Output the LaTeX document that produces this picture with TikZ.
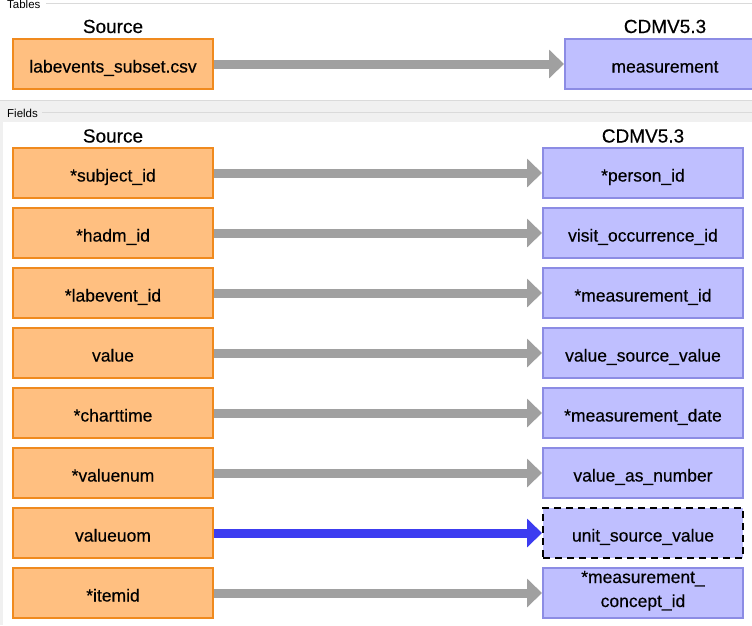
\documentclass[tikz,border=0pt]{standalone}
\usepackage{fontspec}
\setmainfont{Liberation Sans}
\newfontfamily\boxfont{Liberation Sans}[FakeBold=0.35]
\usetikzlibrary{arrows.meta}
\definecolor{srcfill}{RGB}{255,191,128}
\definecolor{srcdraw}{RGB}{240,138,30}
\definecolor{tgtfill}{RGB}{191,191,255}
\definecolor{tgtdraw}{RGB}{140,140,228}
\definecolor{arrgray}{RGB}{160,160,160}
\definecolor{arrblue}{RGB}{60,60,240}
\definecolor{panelline}{RGB}{218,218,218}
\definecolor{panelband}{RGB}{240,240,240}
\tikzset{
  boxbase/.style={rectangle, minimum width=200pt, minimum height=50pt, line width=2pt, inner sep=0pt, align=center, text height=17pt, text depth=0pt, font=\boxfont\fontsize{17.5}{24}\selectfont},
  srcbox/.style={boxbase, draw=srcdraw, fill=srcfill},
  tgtbox/.style={boxbase, draw=tgtdraw, fill=tgtfill},
  dashbox/.style={boxbase, draw=black, fill=tgtfill, dash pattern=on 7pt off 5pt},
  twoline/.style={text height=36pt, text depth=8pt},
  maparrow/.style={draw=arrgray, line width=9pt, -{Triangle[length=15pt,width=28pt]}},
  mapblue/.style={maparrow, draw=arrblue},
  coltitle/.style={inner sep=0pt, anchor=base, font=\boxfont\fontsize{19}{22}\selectfont},
  paneltitle/.style={inner sep=0pt, anchor=west, font=\fontsize{11.5}{13}\selectfont}
}
\begin{document}
\begin{tikzpicture}[x=1pt,y=-1pt]
\useasboundingbox (0,0) rectangle (752,625);
\clip (0,0) rectangle (752,625);
% panel decorations
\fill[white] (0,0) rectangle (752,625);
\draw[panelline, line width=1pt] (46,3) -- (752,3);
\fill[panelband] (0,101) rectangle (752,122);
\draw[panelline, line width=1pt] (0,100.5) -- (752,100.5);
\draw[panelline, line width=1pt] (42,112) -- (752,112);
\fill[panelband] (0,122) rectangle (3,625);
\node[paneltitle] (tablesLbl) at (7,4) {Tables};
\node[paneltitle] (fieldsLbl) at (7,113) {Fields};
% Tables
\node[coltitle] (tsrc) at (113,33) {Source};
\node[coltitle] (ttgt) at (665,33) {CDMV5.3};
\node[srcbox] (ts) at (113,64) {labevents\_subset.csv};
\node[tgtbox] (tt) at (665,64) {measurement};
\draw[maparrow] (ts.east) -- (tt.west);
% Fields
\node[coltitle] (fsrc) at (113,142.5) {Source};
\node[coltitle] (ftgt) at (643,142.5) {CDMV5.3};
\node[srcbox] (s1) at (113,173) {*subject\_id};
\node[srcbox] (s2) at (113,233) {*hadm\_id};
\node[srcbox] (s3) at (113,293) {*labevent\_id};
\node[srcbox] (s4) at (113,353) {value};
\node[srcbox] (s5) at (113,413) {*charttime};
\node[srcbox] (s6) at (113,473) {*valuenum};
\node[srcbox] (s7) at (113,533) {valueuom};
\node[srcbox] (s8) at (113,593) {*itemid};
\node[tgtbox] (t1) at (643,173) {*person\_id};
\node[tgtbox] (t2) at (643,233) {visit\_occurrence\_id};
\node[tgtbox] (t3) at (643,293) {*measurement\_id};
\node[tgtbox] (t4) at (643,353) {value\_source\_value};
\node[tgtbox] (t5) at (643,413) {*measurement\_date};
\node[tgtbox] (t6) at (643,473) {value\_as\_number};
\node[dashbox] (t7) at (643,533) {unit\_source\_value};
\node[tgtbox, twoline] (t8) at (643,593) {*measurement\_\\concept\_id};
\foreach \i in {1,2,3,4,5,6,8} {\draw[maparrow] (s\i.east) -- (t\i.west);}
\draw[mapblue] (s7.east) -- (t7.west);
\end{tikzpicture}
\end{document}
